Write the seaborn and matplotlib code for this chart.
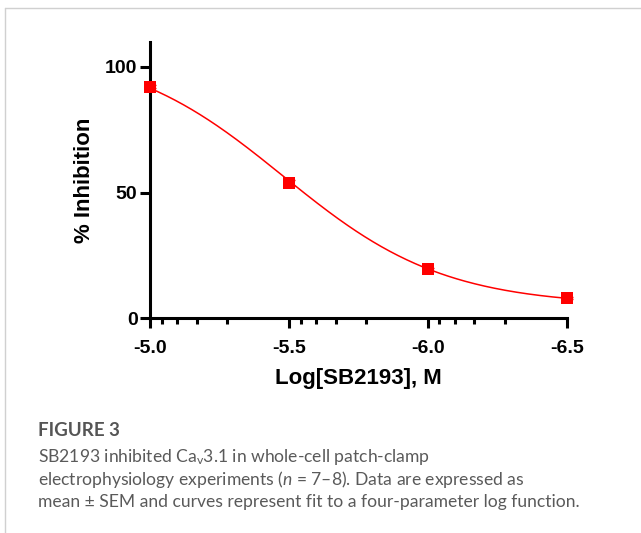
import numpy as np
import pandas as pd
import matplotlib
matplotlib.use("Agg")
import matplotlib.pyplot as plt
from matplotlib.lines import Line2D
from matplotlib.ticker import FixedLocator
import seaborn as sns

# data
log_conc = [-5.0, -5.5, -6.0, -6.5]
inhibition = [92.0, 53.8, 19.5, 8.0]
sem = [0.6, 1.3, 0.6, 0.5]

# four-parameter logistic fit (estimated from the drawn curve)
fit_bottom = 5.0
fit_top = 108.0
fit_logic50 = -5.48
fit_hill = 1.5

xticks = [-5.0, -5.5, -6.0, -6.5]
yticks = [0, 50, 100]

sns.set_theme(style="ticks", rc={"text.color": "black", "axes.labelcolor": "black",
                                 "xtick.color": "black", "ytick.color": "black"})
plt.rcParams["font.family"] = ["Liberation Sans", "DejaVu Sans"]
plt.rcParams["mathtext.fontset"] = "custom"
plt.rcParams["mathtext.rm"] = "Lato"
plt.rcParams["mathtext.it"] = "Lato:italic"

fig = plt.figure(figsize=(6.41, 5.33), dpi=100)
ax = fig.add_axes([150 / 641, 1 - 318.3 / 533, (566.7 - 150) / 641, (318.3 - 41.7) / 533])

xfit = np.linspace(-5.0, -6.5, 300)
yfit = fit_bottom + (fit_top - fit_bottom) / (1 + 10 ** ((fit_logic50 - xfit) * fit_hill))
curve = pd.DataFrame({"x": xfit, "y": yfit})
sns.lineplot(data=curve, x="x", y="y", ax=ax, color="#ff0000", linewidth=1.1, clip_on=False)

pts = pd.DataFrame({"x": log_conc, "y": inhibition, "sem": sem})
ax.errorbar(pts["x"], pts["y"], yerr=pts["sem"], fmt="none", ecolor="#ff0000",
            elinewidth=1.2, capsize=4, clip_on=False, zorder=3)
sns.scatterplot(data=pts, x="x", y="y", ax=ax, marker="s", s=80, color="#ff0000",
                edgecolor="#ff0000", linewidth=0, clip_on=False, zorder=4)

ax.set_xlim(-5.0, -6.5)
ax.set_ylim(0, 110)
ax.set_xticks(xticks)
ax.set_xticklabels([f"{v:.1f}" for v in xticks])
ax.set_yticks(yticks)
ax.set_yticklabels([str(v) for v in yticks])

# minor ticks repeat inside every half-log step
minor_offsets = [0.042, 0.098, 0.168, 0.278]
minor = [a - o for a in xticks[:-1] for o in minor_offsets]
ax.xaxis.set_minor_locator(FixedLocator(minor))

sns.despine(ax=ax)
for s in ["left", "bottom"]:
    ax.spines[s].set_linewidth(2.2)
    ax.spines[s].set_color("black")
ax.tick_params(axis="both", which="major", length=7.5, width=2.2, color="black",
               labelcolor="black", labelsize=14)
ax.tick_params(axis="x", which="major", pad=8)
ax.tick_params(axis="y", which="major", pad=1.5)
ax.tick_params(axis="x", which="minor", length=4.5, width=2.2, color="black")
for lab in ax.get_xticklabels() + ax.get_yticklabels():
    lab.set_fontweight("bold")

ax.set_xlabel("Log[SB2193], M", fontsize=16, fontweight="bold", labelpad=8, color="black")
ax.set_ylabel("% Inhibition", fontsize=16, fontweight="bold", labelpad=7, color="black")

# caption
cap_color = "#5a5a5a"
fig.text(38 / 641, 1 - 436.5 / 533, "FIGURE 3", fontsize=13.5, family="Lato",
         fontweight="bold", color="#555555", va="baseline")
lines = [
    "SB2193 inhibited Ca$_\\mathrm{v}$3.1 in whole-cell patch-clamp",
    "electrophysiology experiments ($\\mathit{n}$ = 7\u20138). Data are expressed as",
    "mean \u00b1 SEM and curves represent fit to a four-parameter log function.",
]
baselines = [461.7, 484.5, 506.7]
for t, b in zip(lines, baselines):
    fig.text(38 / 641, 1 - b / 533, t, fontsize=12.6, family="Lato",
             color=cap_color, va="baseline")

# thin frame around the panel
fig.add_artist(Line2D([5 / 641, 1], [1 - 8 / 533, 1 - 8 / 533], color="#d0d0d0", lw=1))
fig.add_artist(Line2D([5 / 641, 5 / 641], [0, 1 - 8 / 533], color="#d0d0d0", lw=1))

fig.savefig("out.png", dpi=100)
